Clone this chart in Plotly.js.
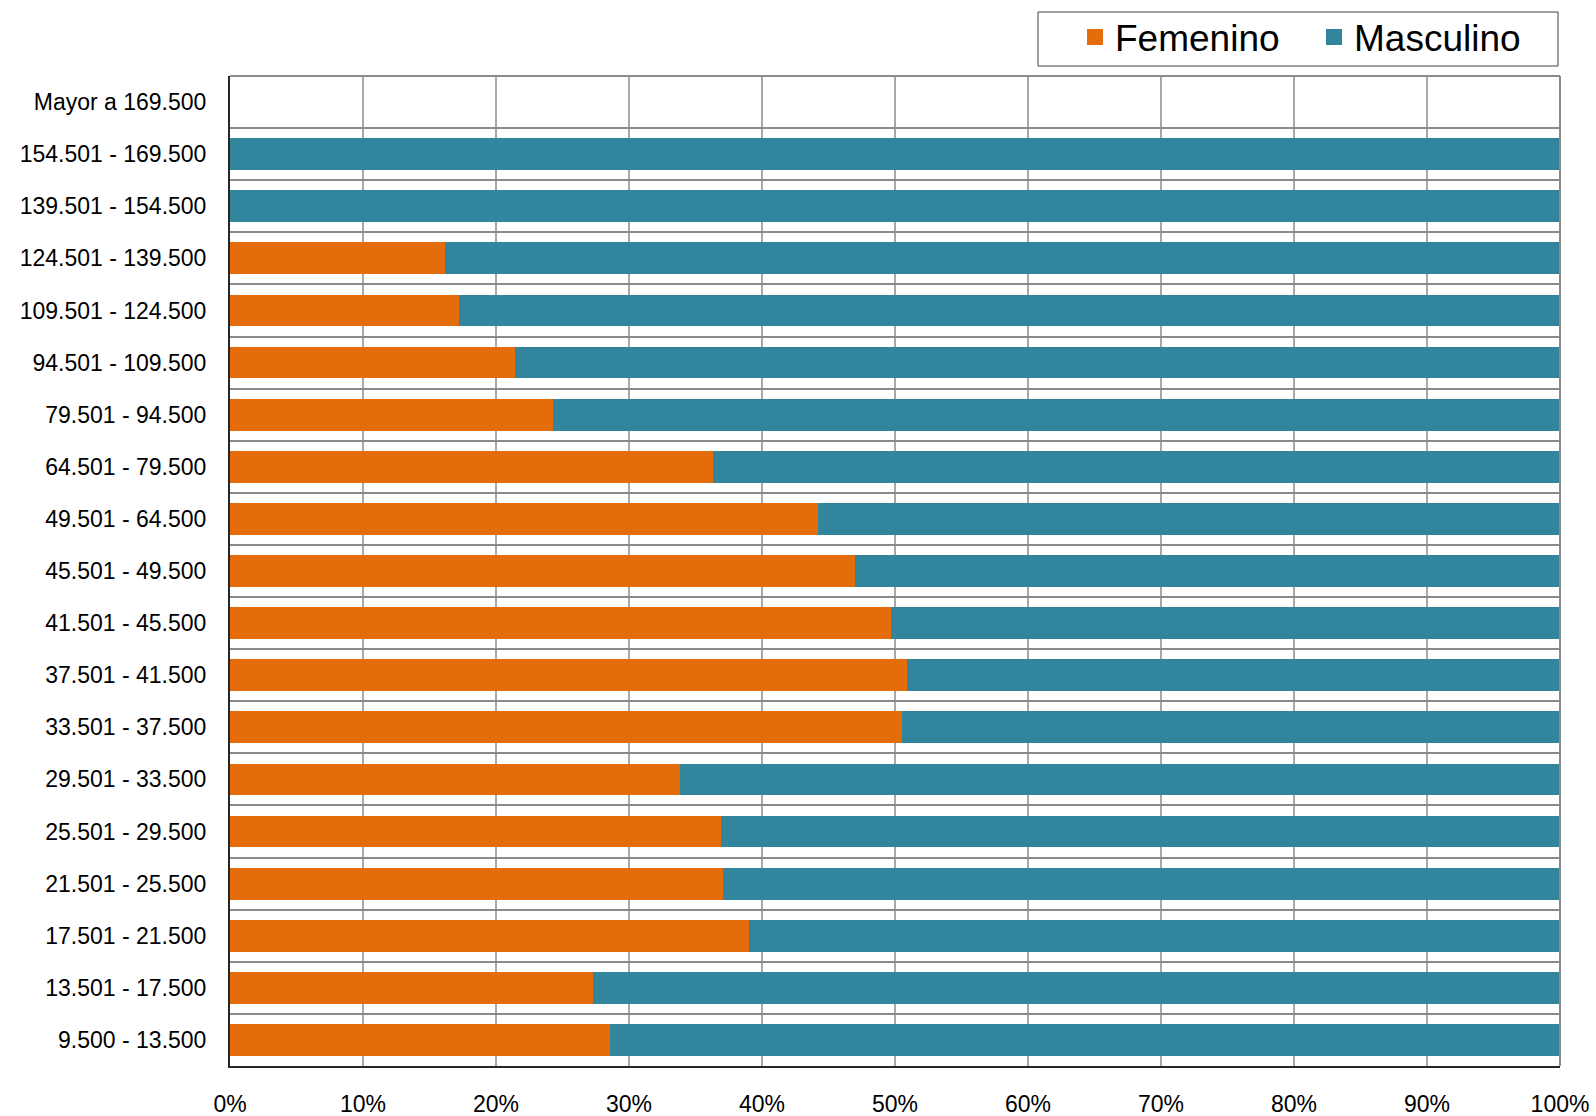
<!DOCTYPE html>
<html>
<head>
<meta charset="utf-8">
<script src="https://cdn.plot.ly/plotly-3.0.1.min.js"></script>
<style>
html,body{margin:0;padding:0;background:#fff;}
#chart{width:1596px;height:1116px;}
</style>
</head>
<body>
<div id="chart"></div>
<script>
// Categories, bottom to top
const categories = [
  "9.500 - 13.500",
  "13.501 - 17.500",
  "17.501 - 21.500",
  "21.501 - 25.500",
  "25.501 - 29.500",
  "29.501 - 33.500",
  "33.501 - 37.500",
  "37.501 - 41.500",
  "41.501 - 45.500",
  "45.501 - 49.500",
  "49.501 - 64.500",
  "64.501 - 79.500",
  "79.501 - 94.500",
  "94.501 - 109.500",
  "109.501 - 124.500",
  "124.501 - 139.500",
  "139.501 - 154.500",
  "154.501 - 169.500",
  "Mayor a 169.500"
];
// Share (%) per category
const femenino = [28.6, 27.3, 39.0, 37.1, 36.9, 33.8, 50.5, 50.9, 49.7, 47.0, 44.2, 36.3, 24.3, 21.4, 17.2, 16.2, 0, 0, null];
const masculino = [71.4, 72.7, 61.0, 62.9, 63.1, 66.2, 49.5, 49.1, 50.3, 53.0, 55.8, 63.7, 75.7, 78.6, 82.8, 83.8, 100, 100, null];
const xTickVals = [0, 10, 20, 30, 40, 50, 60, 70, 80, 90, 100];
const xTickText = ["0%", "10%", "20%", "30%", "40%", "50%", "60%", "70%", "80%", "90%", "100%"];

const colFem = "#E46C0A";
const colMas = "#31859C";
const font = "Liberation Sans, Arial, sans-serif";

const traces = [
  {type: "bar", orientation: "h", name: "Femenino", y: categories, x: femenino,
   marker: {color: colFem}, showlegend: false, hoverinfo: "x+y"},
  {type: "bar", orientation: "h", name: "Masculino", y: categories, x: masculino,
   marker: {color: colMas}, showlegend: false, hoverinfo: "x+y"},
  // legend proxies
  {type: "scatter", mode: "markers", name: "Femenino", x: [null], y: [null],
   marker: {symbol: "square", size: 18, color: colFem}, showlegend: true},
  {type: "scatter", mode: "markers", name: "Masculino", x: [null], y: [null],
   marker: {symbol: "square", size: 18, color: colMas}, showlegend: true}
];

// plot area in pixels: left 230, right 1560, top 76, bottom 1066
const plotW = 1330, plotH = 990;

const layout = {
  width: 1596, height: 1116,
  paper_bgcolor: "#fff", plot_bgcolor: "#fff",
  margin: {l: 230, r: 36, t: 76, b: 50, autoexpand: false},
  barmode: "stack",
  bargap: 0.39,
  font: {family: font, size: 23, color: "#000"},
  xaxis: {
    range: [0, 100], tickvals: xTickVals, ticktext: xTickText,
    showgrid: true, gridcolor: "#a8a8a8", gridwidth: 1.5,
    showline: true, linecolor: "#262626", linewidth: 2,
    zeroline: false, ticks: "", ticklabelstandoff: 16,
    tickfont: {family: font, size: 23, color: "#000"}, fixedrange: true
  },
  yaxis: {
    type: "category", categoryorder: "array", categoryarray: categories,
    range: [-0.5, categories.length - 0.5],
    tickson: "boundaries", showgrid: true, gridcolor: "#8a8a8a", gridwidth: 2,
    showline: true, linecolor: "#262626", linewidth: 2,
    zeroline: false, ticks: "", ticklabelstandoff: 17,
    tickfont: {family: font, size: 23, color: "#000"}, fixedrange: true
  },
  shapes: [
    {type: "line", xref: "paper", yref: "paper", x0: 0, x1: 1, y0: 1, y1: 1,
     line: {color: "#8a8a8a", width: 2}},
    {type: "line", xref: "paper", yref: "paper", x0: 1, x1: 1, y0: 0, y1: 1,
     line: {color: "#8a8a8a", width: 2}},
    // legend frame
    {type: "rect", xref: "paper", yref: "paper",
     x0: (1038 - 230) / plotW, x1: (1558 - 230) / plotW,
     y0: 1 + (76 - 66) / plotH, y1: 1 + (76 - 12) / plotH,
     line: {color: "#404040", width: 1}, fillcolor: "rgba(0,0,0,0)"}
  ],
  legend: {
    orientation: "h", x: (1075 - 230) / plotW, xanchor: "left",
    y: 1 + (76 - 6.5) / plotH, yanchor: "top",
    borderwidth: 0, bgcolor: "rgba(0,0,0,0)",
    font: {family: font, size: 37, color: "#000"},
    entrywidth: 194,
    traceorder: "normal"
  },
  showlegend: true
};

Plotly.newPlot("chart", traces, layout, {displayModeBar: false, staticPlot: true});
</script>
</body>
</html>
